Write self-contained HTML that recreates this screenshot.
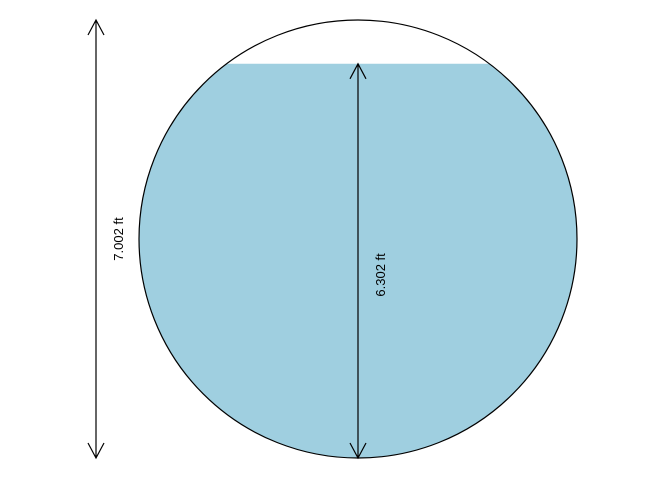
<!DOCTYPE html>
<html><head><meta charset="utf-8"><style>
html,body{margin:0;padding:0;background:#fff;}
svg text{font-family:"Liberation Sans",sans-serif;font-size:13px;fill:#000;}
</style></head><body>
<svg id="chart" width="672" height="480" viewBox="0 0 672 480" xmlns="http://www.w3.org/2000/svg"></svg>
<script>
const measureNames = ["diameter", "depth"];
const measureValues = [7.002, 6.302];
const measureUnits = ["ft", "ft"];

const svg = document.getElementById('chart');
const NS = 'http://www.w3.org/2000/svg';
const cx = 358, cy = 239, r = 219;
const diameter = measureValues[0], depth = measureValues[1];
const scale = (2 * r) / diameter;
const yBottom = cy + r;
function yOf(v){ return yBottom - v * scale; }

function mk(tag, attrs){ const e = document.createElementNS(NS, tag); for (const k in attrs) e.setAttribute(k, attrs[k]); svg.appendChild(e); return e; }

// water segment
const yw = yOf(depth);
const dy = cy - yw;
const hw = Math.sqrt(Math.max(0, r*r - dy*dy));
const large = yw < cy ? 1 : 0;
const water = mk('path', {d:`M${cx-hw},${yw} L${cx+hw},${yw} A${r},${r} 0 ${large} 1 ${cx-hw},${yw} Z`, fill:'#9fcfe0', stroke:'none'});



const circ = mk('circle', {cx:cx, cy:cy, r:r, fill:'none', stroke:'#000', 'stroke-width':1.2});



function arrow(x, y1, y2, name){
  const g = mk('g', {stroke:'#000', 'stroke-width':1.2, fill:'none'});
  
  
  const p = document.createElementNS(NS, 'path');
  p.setAttribute('d', `M${x},${y1} L${x},${y2} M${x-8},${y1+15} L${x},${y1} L${x+8},${y1+15} M${x-8},${y2-15} L${x},${y2} L${x+8},${y2-15}`);
  g.appendChild(p);
}
function label(x, y, txt, name){
  const t = mk('text', {x:x, y:y, transform:`rotate(-90 ${x} ${y})`, 'text-anchor':'middle'});
  t.textContent = txt;
  
  
}

arrow(96, yOf(diameter), yOf(0), 'diameter-arrow');
label(123, (yOf(diameter)+yOf(0))/2, measureValues[0].toFixed(3) + ' ' + measureUnits[0], 'diameter-label');
arrow(cx, yOf(depth), yOf(0), 'depth-arrow');
label(385, (yOf(depth)+yOf(0))/2 + 14, measureValues[1].toFixed(3) + ' ' + measureUnits[1], 'depth-label');
</script>
</body></html>
